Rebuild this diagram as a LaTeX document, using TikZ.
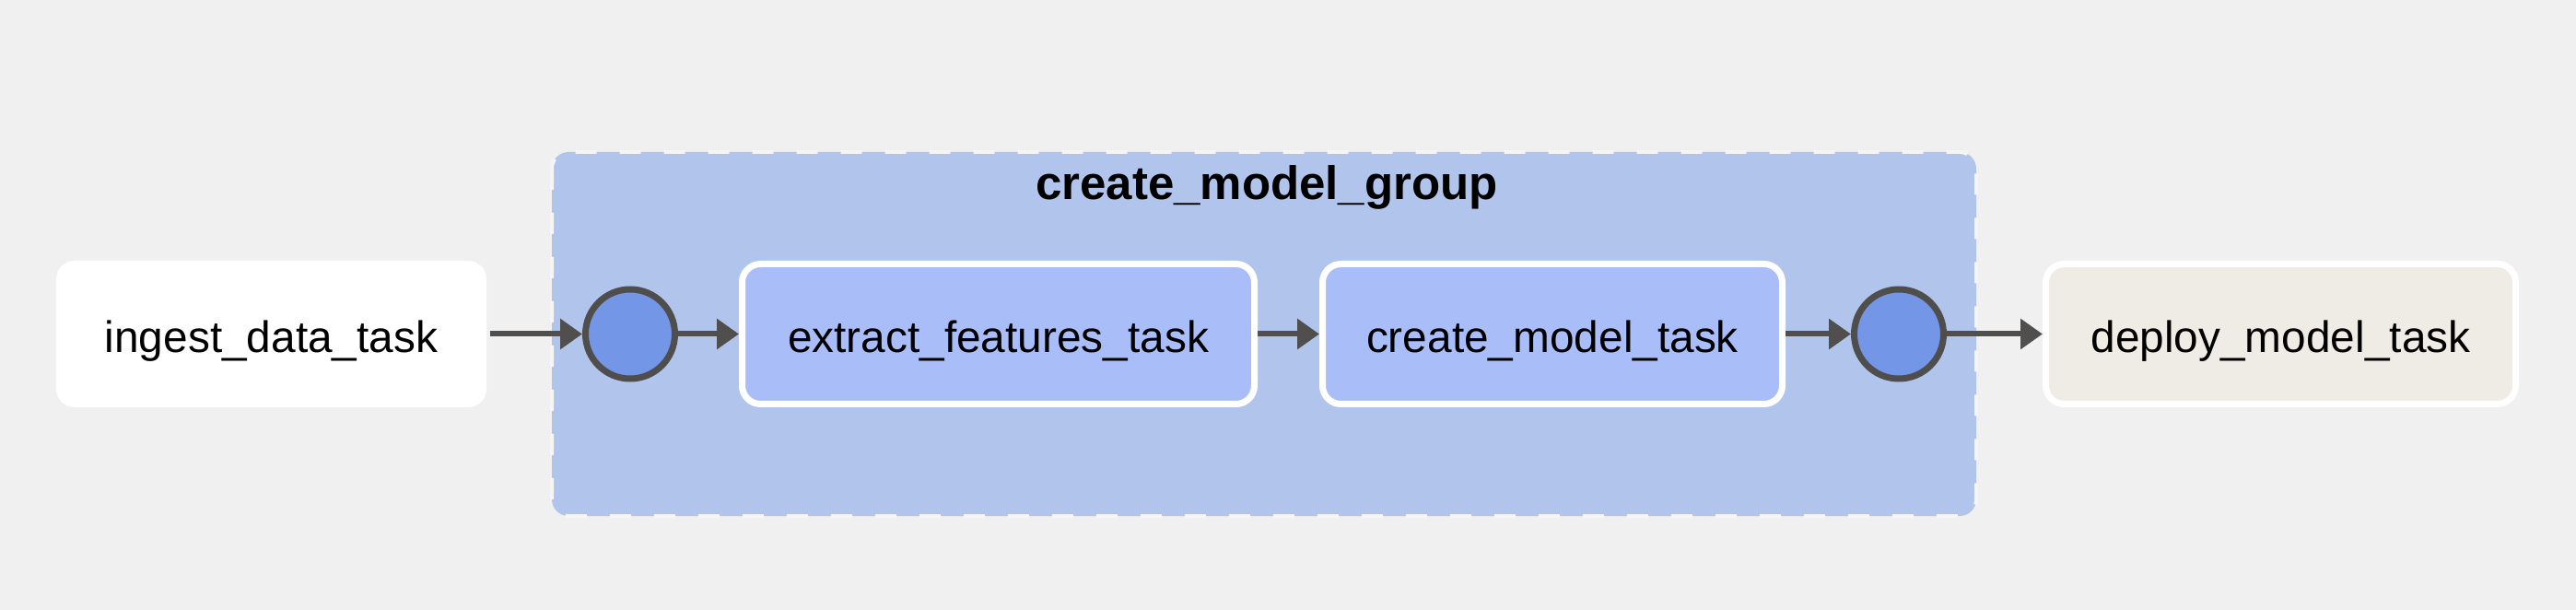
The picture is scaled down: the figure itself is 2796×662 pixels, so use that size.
\documentclass[tikz,border=0pt]{standalone}
\usepackage{fontspec}
\setmainfont{Liberation Sans}
\usetikzlibrary{arrows.meta}
\definecolor{bgc}{HTML}{F0F0F0}
\definecolor{grpfill}{HTML}{B1C5EC}
\definecolor{grpline}{HTML}{F5F5F5}
\definecolor{taskfill}{HTML}{A9BEF9}
\definecolor{joinfill}{HTML}{7397E6}
\definecolor{joinline}{HTML}{4F4E4D}
\definecolor{arrc}{HTML}{504F4E}
\definecolor{deployfill}{HTML}{EFECE5}
\tikzset{
  taskbox/.style={rectangle, rounded corners=10pt, draw=white, line width=3.5pt,
    minimum height=76pt, inner sep=0pt, text height=20.5pt, text depth=0pt,
    font=\fontsize{23.9pt}{28pt}\selectfont, text=black},
  joinnode/.style={circle, fill=joinfill, draw=joinline, line width=3.5pt, minimum size=48.5pt, inner sep=0pt},
  arr/.style={draw=arrc, line width=3pt, -{Triangle[length=12pt,width=16pt]}},
  grp/.style={fill=grpfill, draw=grpline, line width=2pt, dash pattern=on 11.5pt off 12.5pt, rounded corners=9pt}
}
\begin{document}
\begin{tikzpicture}[x=0.5pt,y=-0.5pt]
\fill[bgc] (0,0) rectangle (2796,662);
\useasboundingbox (0,0) rectangle (2796,662);
% group
\draw[grp] (599,165) rectangle (2145,560);
\node[anchor=base, font=\bfseries\fontsize{25.5pt}{30pt}\selectfont] (title) at (1375,217) {create\_model\_group};
% nodes
\node[taskbox, fill=white, draw=none, minimum width=233.5pt, minimum height=79.5pt] (ingest) at (294.5,362.5) {ingest\_data\_task};
\node[joinnode] (c1) at (684,362.5) {};
\node[taskbox, fill=taskfill, minimum width=278pt] (extract) at (1083.5,362.5) {extract\_features\_task};
\node[taskbox, fill=taskfill, minimum width=249.5pt] (create) at (1685,362.5) {create\_model\_task};
\node[joinnode] (c2) at (2061,362.5) {};
\node[taskbox, fill=deployfill, minimum width=255pt] (deploy) at (2475.5,362.5) {deploy\_model\_task};
% connectors
\draw[arr] (ingest.east) -- (c1.west);
\draw[arr] (c1.east) -- (extract.west);
\draw[arr] (extract.east) -- (create.west);
\draw[arr] (create.east) -- (c2.west);
\draw[arr] (c2.east) -- (deploy.west);
\end{tikzpicture}
\end{document}
